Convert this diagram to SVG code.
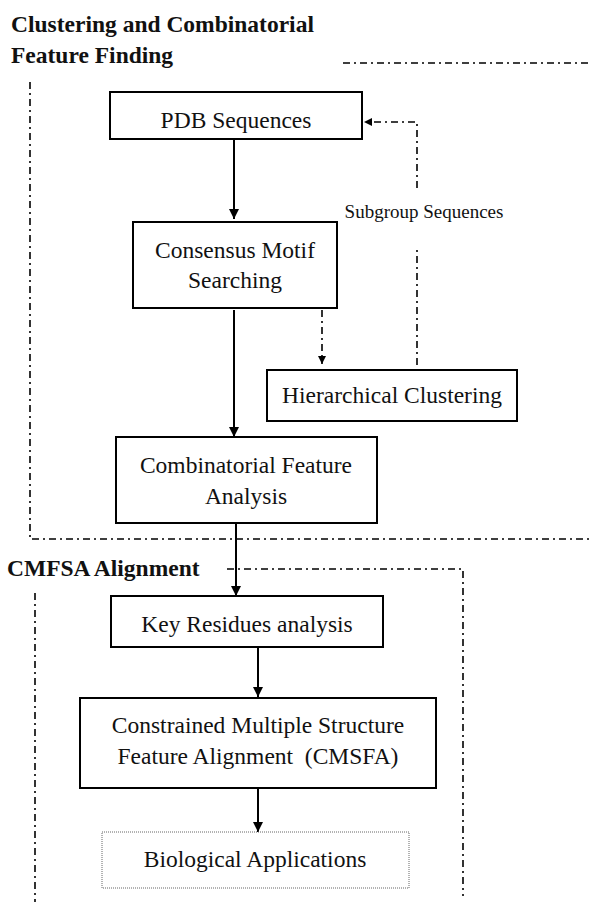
<svg xmlns="http://www.w3.org/2000/svg" width="592" height="902" viewBox="0 0 592 902">
<style>
.box{fill:#fff;stroke:#000;stroke-width:2}
.lbl{font-family:"Liberation Serif","Times New Roman",serif;font-size:23.5px;fill:#111;text-anchor:middle}
.ttl{font-family:"Liberation Serif","Times New Roman",serif;font-size:23.5px;font-weight:bold;fill:#111}
.dd{fill:none;stroke:#000;stroke-width:1.6;stroke-dasharray:7 4 2 4}
.arr{fill:none;stroke:#000;stroke-width:2}
</style>
<defs>
<marker id="ah" viewBox="0 0 10 10" refX="10" refY="5" markerWidth="5" markerHeight="5" markerUnits="strokeWidth" orient="auto">
<path d="M0,0 L10,5 L0,10 Z" fill="#000"/>
</marker>
</defs>
<g id="group-cluster">
<text class="ttl" x="11" y="32">Clustering and Combinatorial</text>
<text class="ttl" x="11" y="63">Feature Finding</text>
<path class="dd" d="M343,63 H592 M30,82 V539 H592"/>
</g>
<g id="group-cmfsa">
<text class="ttl" x="7" y="576">CMFSA Alignment</text>
<path class="dd" d="M227,569 H463 V896 M35,593 V902"/>
</g>
<g id="connectors">
<path class="arr" d="M234,139 V219" marker-end="url(#ah)"/>
<path class="arr" d="M234,310 V437" marker-end="url(#ah)"/>
<path class="arr" d="M236,523 V596" marker-end="url(#ah)"/>
<path class="arr" d="M258,647 V697" marker-end="url(#ah)"/>
<path class="arr" d="M258,788 V832" marker-end="url(#ah)"/>
<path class="dd" d="M322,310 V364" marker-end="url(#ah)"/>
<path class="dd" d="M417,365 V248 M417,188 V122 H364" marker-end="url(#ah)"/>
<text x="424" y="218" style="font-family:'Liberation Serif','Times New Roman',serif;font-size:19px;fill:#111;text-anchor:middle">Subgroup Sequences</text>
</g>
<g id="node-pdb">
<rect class="box" x="110" y="92" width="252" height="47"/>
<text class="lbl" x="236" y="128">PDB Sequences</text>
</g>
<g id="node-consensus">
<rect class="box" x="133" y="222" width="204" height="86"/>
<text class="lbl" x="235" y="258">Consensus Motif</text>
<text class="lbl" x="235" y="288">Searching</text>
</g>
<g id="node-hier">
<rect class="box" x="267" y="370" width="250" height="51"/>
<text class="lbl" x="392" y="403">Hierarchical Clustering</text>
</g>
<g id="node-comb">
<rect class="box" x="116" y="437" width="261" height="86"/>
<text class="lbl" x="246" y="473">Combinatorial Feature</text>
<text class="lbl" x="246" y="504">Analysis</text>
</g>
<g id="node-key">
<rect class="box" x="111" y="596" width="272" height="51"/>
<text class="lbl" x="247" y="632">Key Residues analysis</text>
</g>
<g id="node-cmsfa">
<rect class="box" x="80" y="698" width="356" height="90"/>
<text class="lbl" x="258" y="733">Constrained Multiple Structure</text>
<text class="lbl" x="258" y="764" xml:space="preserve">Feature Alignment  (CMSFA)</text>
</g>
<g id="node-bio">
<rect x="102" y="832" width="307" height="56" fill="#fff" stroke="#666" stroke-width="1" stroke-dasharray="1 1"/>
<text class="lbl" x="255" y="867">Biological Applications</text>
</g>
</svg>
